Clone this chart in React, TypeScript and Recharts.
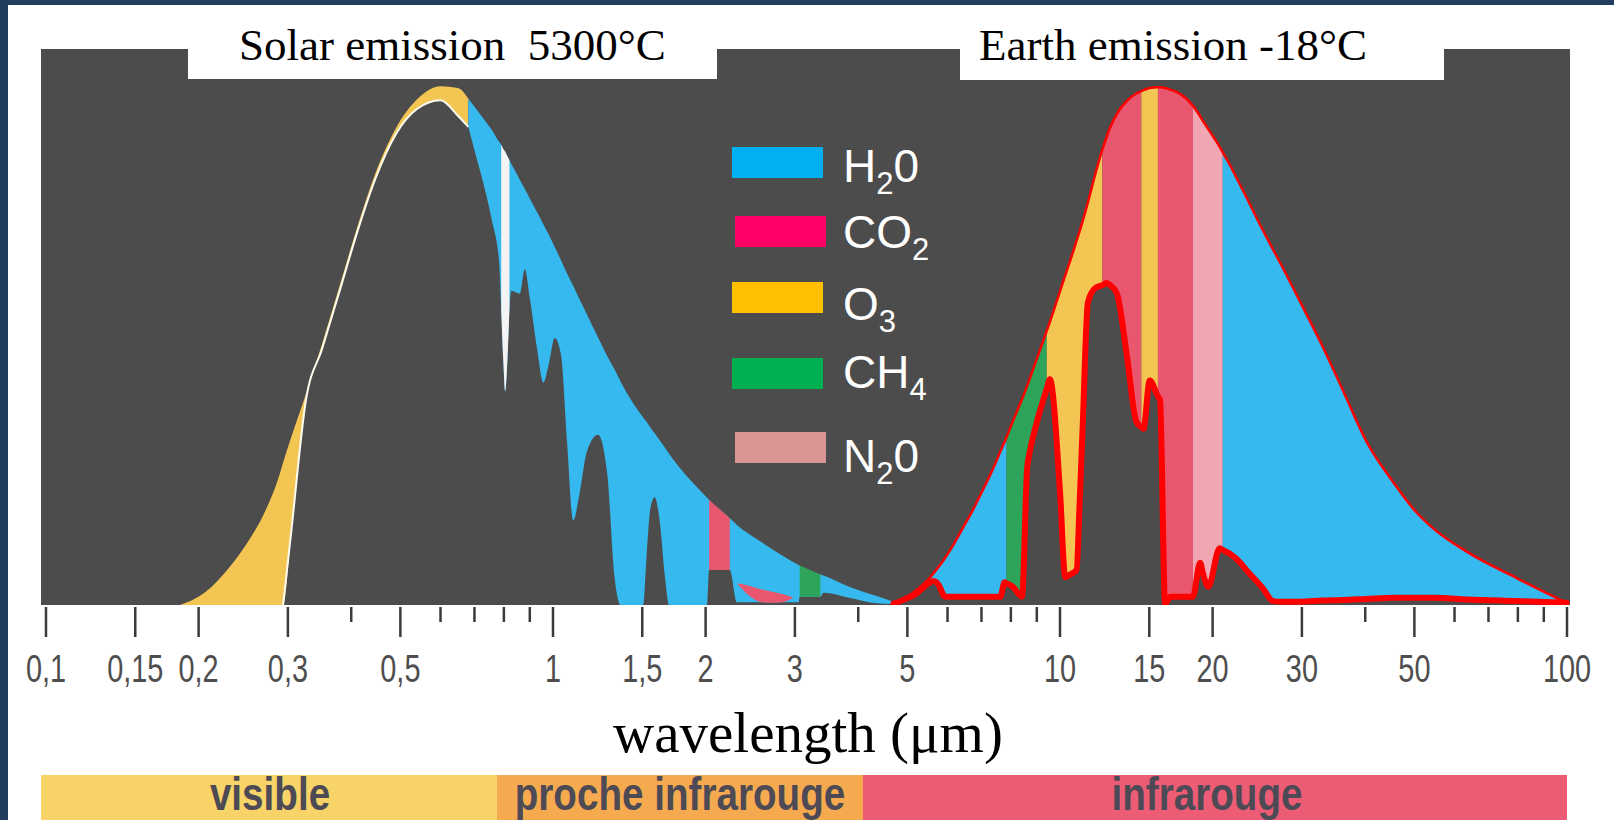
import { ComposedChart, Area, Line, XAxis, YAxis, ReferenceArea, Legend } from "recharts"

// solar spectrum: outer (top of atmosphere) and transmitted (ground) curves
const solarWl = [
  0.1838, 0.2066, 0.2301, 0.2491, 0.271, 0.2894, 0.2935, 0.3047, 0.3253, 0.3505,
  0.3795, 0.4128, 0.447, 0.4908, 0.5389, 0.5999, 0.6494, 0.6808, 0.7032, 0.73,
  0.758, 0.783, 0.7904, 0.798, 0.805, 0.813, 0.8206, 0.828, 0.86, 0.88,
  0.901, 0.931, 0.957, 0.98, 1.008, 1.037, 1.066, 1.096, 1.128, 1.165,
  1.227, 1.279, 1.322, 1.359, 1.507, 1.528, 1.557, 1.587, 1.624, 1.663,
  1.694, 1.816, 2.013, 2.032, 2.232, 2.306, 2.579, 2.832, 3.051, 3.066,
  3.367, 3.415, 3.837, 4.355, 4.648,
]
const solarOuter = [
  0, 2.4, 6.8, 11.1, 17.0, 23.7, 25.6, 30.2, 37.8, 47.0,
  57.4, 68.5, 77.8, 85.9, 90.9, 93.3, 93.0, 91.1, 89.4, 87.4,
  85.4, 83.3, 82.8, 82.0, 81.5, 80.7, 80.0, 79.3, 76.5, 74.8,
  73.0, 70.6, 68.5, 66.7, 64.4, 62.0, 59.6, 57.4, 55.0, 52.4,
  48.1, 44.8, 42.4, 40.2, 33.7, 33.0, 31.9, 30.9, 29.6, 28.3,
  27.2, 23.7, 19.3, 18.9, 15.6, 14.4, 11.3, 8.9, 7.2, 7.1,
  5.5, 5.3, 3.3, 1.6, 0.7,
]
const solarInner = [
  0, 0, 0, 0, 0, 0, 0, 13.3, 36.6, 46.1,
  56.5, 67.6, 76.8, 84.8, 89.2, 90.8, 88.0, 86.0, 81.1, 75.6,
  69.1, 61.7, 53.3, 44.1, 38.5, 44.1, 53.3, 56.5, 56.0, 60.4,
  55.0, 45.9, 40.0, 43.1, 48.0, 45.0, 29.3, 15.2, 20.0, 27.4,
  30.6, 23.7, 5.2, 0, 0, 8.0, 17.5, 19.4, 15.0, 5.0,
  0, 0, 0, 6.3, 6.3, 0.5, 0.5, 0.5, 0.5, 1.5,
  1.5, 2.2, 1.3, 0.3, 0.2,
]

const solarBandGas = ["O3", "H2O", "O2", "CO2", "CH4"]
const solarBandFrom = [0.1838, 0.6808, 0.7904, 2.032, 3.066]
const solarBandTo = [0.6808, 4.648, 0.8206, 2.232, 3.367]

// white rim along the transmitted solar curve
const uvEdgeRange = [0.2935, 0.6808]

// CO2 absorption near 2.7 µm, under the water band
const lobeWl = [2.306, 2.427, 2.579, 2.703, 2.832, 2.968]
const lobeLow = [3.9, 1.8, 0.5, 0.4, 0.5, 1.2]
const lobeHigh = [3.9, 3.5, 2.8, 2.4, 2.0, 1.4]

// earth emission: black body and what escapes to space
const earthWl = [
  4.692, 4.962, 5.2, 5.525, 5.629, 5.79, 5.845, 5.927, 6.124, 6.418,
  6.725, 6.949, 7.385, 7.629, 7.773, 7.846, 8.068, 8.415, 8.614, 8.694,
  8.985, 9.416, 9.549, 10.006, 10.24, 10.48, 10.78, 10.93, 11.09, 11.35,
  11.73, 12.12, 12.35, 12.52, 12.94, 13.56, 14.14, 14.47, 14.61, 15.03,
  15.6, 15.75, 16.12, 16.51, 17.21, 18.29, 18.89, 19.16, 19.61, 20.65,
  20.94, 21.64, 22.68, 23.21, 25.13, 26.33, 27.34, 29.74, 32.96, 36.19,
  40.29, 45.5, 50.19, 54.6, 63.41, 79.72, 99.78,
]
const earthOuter = [
  0.2, 1.3, 2.6, 4.8, 5.7, 7.1, 7.6, 8.4, 10.4, 13.7,
  17.0, 19.6, 24.6, 27.6, 29.3, 30.2, 33.0, 37.0, 39.4, 40.4,
  44.1, 49.3, 50.9, 56.5, 59.3, 62.0, 65.5, 67.2, 69.1, 72.4,
  77.4, 81.9, 84.1, 85.6, 88.3, 90.7, 92.0, 92.4, 92.6, 93.0,
  93.1, 93.1, 93.0, 92.7, 92.0, 89.8, 87.9, 87.0, 85.6, 82.4,
  81.4, 79.1, 75.5, 73.7, 67.4, 63.9, 61.1, 54.6, 46.5, 38.5,
  29.3, 22.0, 16.9, 13.7, 9.6, 4.8, 0.4,
]
const earthInner = [
  0.2, 1.1, 2.0, 4.0, 4.3, 3.3, 2.4, 1.5, 1.5, 1.5,
  1.5, 1.5, 1.5, 1.5, 4.1, 3.9, 3.3, 1.5, 24.6, 27.0,
  32.6, 38.9, 40.6, 20.0, 5.0, 5.5, 6.3, 18.0, 32.6, 54.4,
  57.0, 57.5, 57.9, 57.6, 56.1, 44.6, 33.0, 32.0, 31.7, 40.4,
  37.5, 36.9, 0.2, 1.5, 1.5, 1.5, 7.6, 5.5, 3.3, 10.2,
  9.9, 9.2, 7.6, 6.5, 3.0, 0.7, 0.6, 0.6, 0.8, 0.9,
  1.1, 1.3, 1.3, 1.3, 1.0, 0.7, 0.4,
]

const earthBandGas = ["H2O", "CH4", "O3", "CO2", "O3", "CO2", "N2O", "H2O"]
const earthBandFrom = [4.692, 7.846, 9.416, 12.12, 14.47, 15.6, 18.29, 20.94]
const earthBandTo = [7.846, 9.416, 12.12, 14.47, 15.6, 18.29, 20.94, 99.78]

const majorTicks = [0.1, 0.15, 0.2, 0.3, 0.5, 1, 1.5, 2, 3, 5, 10, 15, 20, 30, 50, 100]
const tickLabels = ["0,1", "0,15", "0,2", "0,3", "0,5", "1", "1,5", "2", "3", "5", "10", "15", "20", "30", "50", "100"]
const minorTicks = [0.4, 0.6, 0.7, 0.8, 0.9, 4, 6, 7, 8, 9, 40, 60, 70, 80, 90]

const legendMain = ["H", "CO", "O", "CH", "N"]
const legendSub = ["2", "2", "3", "4", "2"]
const legendTail = ["0", "", "", "", "0"]
const legendColors = ["#00b0f0", "#ff0066", "#ffc000", "#00b050", "#d99594"]

const regionNames = ["visible", "proche infrarouge", "infrarouge"]

const gasColors: Record<string, string> = {
  H2O: "#36b9ee",
  CO2: "#e8576e",
  O3: "#f3c654",
  CH4: "#2ea35a",
  N2O: "#f0a6b3",
  O2: "#f4f4f4",
}

const W = 1614
const H = 820
const X_DOMAIN = [0.09776, 101.37]

type Row = { wl: number; [key: string]: number | number[] | undefined }

const rows: Row[] = []
solarWl.forEach((wl, i) => {
  const row: Row = { wl }
  solarBandGas.forEach((_, k) => {
    if (wl >= solarBandFrom[k] && wl <= solarBandTo[k]) row[`s${k}`] = [solarInner[i], solarOuter[i]]
  })
  if (wl >= uvEdgeRange[0] && wl <= uvEdgeRange[1]) row.edge = solarInner[i]
  rows.push(row)
})
lobeWl.forEach((wl, i) => rows.push({ wl, lobe: [lobeLow[i], lobeHigh[i]] }))
earthWl.forEach((wl, i) => {
  const row: Row = { wl, eOuter: earthOuter[i], eInner: earthInner[i] }
  earthBandGas.forEach((_, k) => {
    if (wl >= earthBandFrom[k] && wl <= earthBandTo[k]) row[`e${k}`] = [earthInner[i], earthOuter[i]]
  })
  rows.push(row)
})
rows.sort((a, b) => a.wl - b.wl)

function WavelengthTick(props: any) {
  const { x, y, payload } = props
  const i = majorTicks.indexOf(payload.value)
  const major = i >= 0
  return (
    <g>
      <line x1={x} x2={x} y1={y + 2} y2={y + (major ? 32 : 17)} stroke="#3b3b3b" strokeWidth={2.5} />
      {major && (
        <text
          transform={`translate(${x},${y + 77}) scale(0.76,1)`}
          textAnchor="middle"
          fontFamily="'Liberation Sans', Arial, sans-serif"
          fontSize={38}
          fill="#4e4e4e"
        >
          {tickLabels[i]}
        </text>
      )}
    </g>
  )
}

const LEGEND_LEFT = 720
const LEGEND_TOP = 130
const legendRectX = [732, 735, 732, 732, 735]
const legendRectY = [147, 216, 282, 358, 432]
const legendBaseline = [182, 248, 320, 388, 472]

function GasLegend() {
  return (
    <svg width={240} height={360} style={{ display: "block" }}>
      {legendMain.map((main, i) => (
        <g key={main + i}>
          <rect
            x={legendRectX[i] - LEGEND_LEFT}
            y={legendRectY[i] - LEGEND_TOP}
            width={91}
            height={31}
            fill={legendColors[i]}
          />
          <text
            x={843 - LEGEND_LEFT}
            y={legendBaseline[i] - LEGEND_TOP}
            fill="#ffffff"
            fontFamily="'Liberation Sans', Arial, sans-serif"
            fontSize={46}
          >
            {main}
            <tspan fontSize={31} dy={12}>{legendSub[i]}</tspan>
            {legendTail[i] && <tspan fontSize={46} dy={-12}>{legendTail[i]}</tspan>}
          </text>
        </g>
      ))}
    </svg>
  )
}

export default function App() {
  return (
    <div style={{ position: "absolute", left: 0, top: 0, width: W, height: H, background: "#ffffff", overflow: "hidden" }}>
      <div style={{ position: "absolute", left: 0, top: 0 }}>
        <ComposedChart width={W} height={H} data={rows} margin={{ top: 49, right: 44, bottom: 155, left: 41 }}>
          <XAxis
            dataKey="wl"
            type="number"
            scale="log"
            domain={X_DOMAIN}
            allowDataOverflow
            ticks={[...majorTicks, ...minorTicks].sort((a, b) => a - b)}
            interval={0}
            tick={<WavelengthTick />}
            tickLine={false}
            axisLine={false}
            tickSize={0}
            tickMargin={0}
            height={60}
          />
          <YAxis hide type="number" domain={[0, 100]} allowDataOverflow />
          <ReferenceArea
            x1={X_DOMAIN[0]}
            x2={X_DOMAIN[1]}
            y1={0}
            y2={100}
            fill="#4c4c4c"
            fillOpacity={1}
            stroke="none"
            ifOverflow="visible"
          />
          {solarBandGas.map((gas, k) => (
            <Area
              key={`s${k}`}
              dataKey={`s${k}`}
              type="monotone"
              fill={gasColors[gas]}
              fillOpacity={1}
              stroke="none"
              connectNulls
              dot={false}
              activeDot={false}
              isAnimationActive={false}
            />
          ))}
          <Area
            dataKey="lobe"
            type="monotone"
            fill={gasColors.CO2}
            fillOpacity={1}
            stroke="none"
            connectNulls
            dot={false}
            activeDot={false}
            isAnimationActive={false}
          />
          <Line
            dataKey="edge"
            type="monotone"
            stroke="#fbfbf0"
            strokeWidth={2}
            connectNulls
            dot={false}
            activeDot={false}
            isAnimationActive={false}
          />
          {earthBandGas.map((gas, k) => (
            <Area
              key={`e${k}`}
              dataKey={`e${k}`}
              type="monotone"
              fill={gasColors[gas]}
              fillOpacity={1}
              stroke="none"
              connectNulls
              dot={false}
              activeDot={false}
              isAnimationActive={false}
            />
          ))}
          <Line
            dataKey="eOuter"
            type="monotone"
            stroke="#ff0000"
            strokeWidth={2.5}
            connectNulls
            dot={false}
            activeDot={false}
            isAnimationActive={false}
          />
          <Line
            dataKey="eInner"
            type="monotone"
            stroke="#ff0000"
            strokeWidth={6}
            strokeLinejoin="round"
            strokeLinecap="round"
            connectNulls
            dot={false}
            activeDot={false}
            isAnimationActive={false}
          />
          <Legend
            layout="horizontal"
            verticalAlign="middle"
            align="center"
            content={() => <GasLegend />}
            wrapperStyle={{ left: LEGEND_LEFT, top: LEGEND_TOP, width: 240, height: 360 }}
          />
        </ComposedChart>
      </div>

      <svg width={W} height={H} style={{ position: "absolute", left: 0, top: 0, pointerEvents: "none" }}>
        <rect x={0} y={0} width={W} height={5} fill="#223d5e" />
        <rect x={0} y={0} width={8} height={H} fill="#223d5e" />

        <rect x={188} y={12} width={529} height={67} fill="#ffffff" />
        <text x={239} y={60} fontFamily="'Liberation Serif', 'Times New Roman', serif" fontSize={45} fill="#000" style={{ whiteSpace: "pre" }}>
          {"Solar emission  5300°C"}
        </text>
        <rect x={960} y={12} width={484} height={68} fill="#ffffff" />
        <text x={979} y={60} fontFamily="'Liberation Serif', 'Times New Roman', serif" fontSize={45} fill="#000">
          Earth emission -18°C
        </text>

        <text x={808} y={752} textAnchor="middle" fontFamily="'Liberation Serif', 'Times New Roman', serif" fontSize={57} fill="#000">
          wavelength (μm)
        </text>

        <rect x={41} y={775} width={456} height={45} fill="#f8d468" />
        <rect x={497} y={775} width={366} height={45} fill="#f6aa50" />
        <rect x={863} y={775} width={704} height={45} fill="#ec5c74" />
        {regionNames.map((name, i) => (
          <text
            key={name}
            transform={`translate(${[270, 680, 1207][i]},810) scale(0.84,1)`}
            textAnchor="middle"
            fontFamily="'Liberation Sans', Arial, sans-serif"
            fontWeight="bold"
            fontSize={46}
            fill="#4d4a55"
          >
            {name}
          </text>
        ))}
      </svg>
    </div>
  )
}
